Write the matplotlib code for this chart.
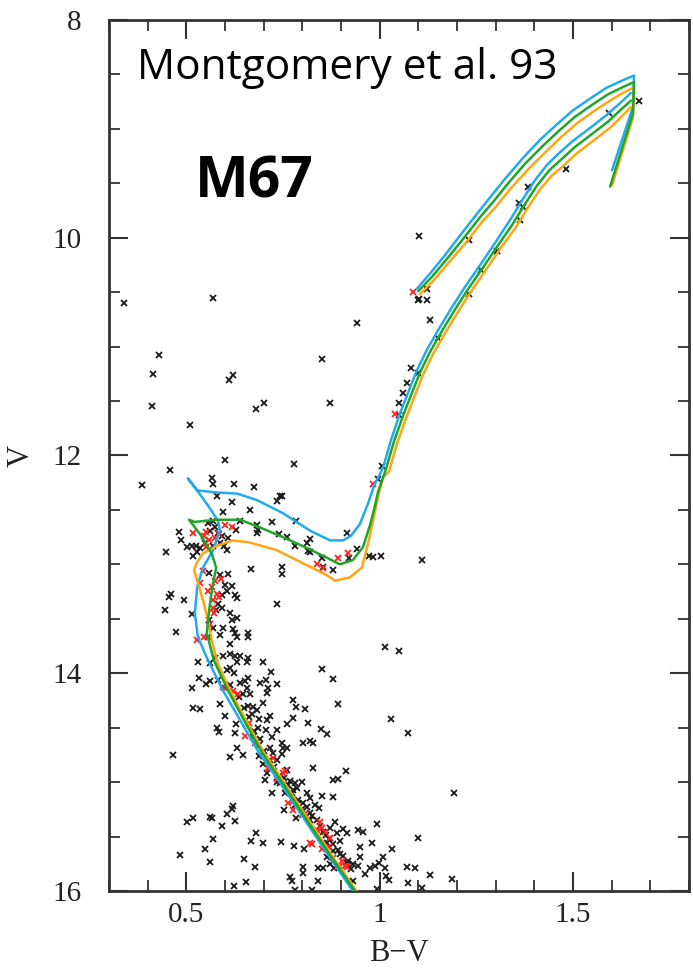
import matplotlib
matplotlib.use("Agg")
import matplotlib.pyplot as plt
from matplotlib.ticker import MultipleLocator, FixedLocator

# ---------------- data ----------------
black_pts = [
    (0.339, 10.60), (0.569, 10.55), (0.941, 10.78), (0.429, 11.08), (0.414, 11.25),
    (0.621, 11.26), (0.610, 11.31), (0.851, 11.11), (0.411, 11.55), (0.680, 11.57),
    (0.701, 11.52), (0.872, 11.52), (0.509, 11.72), (0.600, 12.04), (0.458, 12.13),
    (0.778, 12.08), (0.566, 12.21), (0.385, 12.27), (1.081, 11.20), (1.071, 11.33),
    (1.060, 11.43), (1.050, 11.52), (1.050, 11.63), (1.006, 12.10), (0.996, 12.22),
    (1.099, 10.57), (1.122, 10.57), (1.122, 10.47), (1.102, 10.56), (1.102, 9.98),
    (1.231, 10.02), (1.303, 10.12), (1.262, 10.30), (1.231, 10.52), (1.130, 10.76),
    (1.151, 10.92), (1.099, 11.24), (1.363, 9.84), (1.371, 9.72), (1.360, 9.68),
    (1.384, 9.53), (1.482, 9.37), (1.593, 8.85), (1.671, 8.74), (1.109, 12.96),
    # subgiant region
    (0.569, 12.26), (0.623, 12.26), (0.675, 12.29), (0.579, 12.37), (0.618, 12.43),
    (0.742, 12.37), (0.734, 12.42), (0.747, 12.37), (0.665, 12.50), (0.595, 12.52),
    (0.784, 12.60), (0.722, 12.61), (0.639, 12.60), (0.683, 12.64), (0.685, 12.68),
    (0.683, 12.71), (0.740, 12.72), (0.760, 12.75), (0.820, 12.77), (0.812, 12.80),
    (0.915, 12.71), (0.781, 12.83), (0.815, 12.88), (0.820, 12.89), (0.851, 12.94),
    (0.853, 13.02), (0.879, 13.05), (0.921, 12.94), (0.941, 12.86), (0.972, 12.92),
    (0.983, 12.93), (1.003, 12.92), (0.667, 13.04), (0.747, 13.02), (0.747, 13.09),
    (0.734, 13.36), (1.014, 13.76), (1.050, 13.80), (0.851, 13.96), (0.879, 14.05),
    # left of turnoff
    (0.481, 12.70), (0.486, 12.78), (0.447, 12.89), (0.502, 12.84), (0.525, 12.83),
    (0.515, 12.83), (0.517, 12.92), (0.460, 13.27), (0.455, 13.30), (0.445, 13.42),
    (0.494, 13.33), (0.515, 13.46), (0.473, 13.62), (0.530, 13.90), (0.533, 14.04),
    (0.515, 14.14), (0.551, 14.10), (0.698, 13.90), (0.719, 13.99), (0.690, 14.09),
    (0.657, 13.90),
    # turnoff
    (0.605, 12.87), (0.587, 12.80), (0.561, 12.69), (0.548, 12.80), (0.582, 12.71),
    (0.628, 12.68), (0.556, 12.62), (0.569, 12.60), (0.574, 12.66), (0.592, 12.74),
    (0.535, 12.85), (0.528, 12.89), (0.569, 12.83), (0.597, 12.83), (0.608, 12.76),
    (0.559, 13.08), (0.587, 13.10), (0.608, 13.09), (0.600, 13.19), (0.618, 13.20),
    (0.605, 13.24), (0.592, 13.28), (0.626, 13.28), (0.631, 13.31), (0.582, 13.36),
    (0.592, 13.40), (0.577, 13.42), (0.613, 13.45), (0.631, 13.49), (0.618, 13.51),
    (0.559, 13.51), (0.569, 13.58), (0.595, 13.58), (0.621, 13.59), (0.626, 13.63),
    (0.587, 13.65), (0.659, 13.63), (0.659, 13.67), (0.556, 13.67),
    # upper main sequence
    (0.613, 13.73), (0.631, 13.67), (0.561, 13.91), (0.574, 13.86), (0.595, 13.84),
    (0.613, 13.82), (0.626, 13.84), (0.639, 13.84), (0.631, 13.90), (0.659, 13.86),
    (0.613, 13.95), (0.561, 14.07), (0.582, 14.06), (0.600, 14.14), (0.613, 14.11),
    (0.639, 14.09), (0.652, 14.07), (0.659, 14.04), (0.657, 14.14), (0.665, 14.19),
    (0.647, 14.19), (0.706, 14.06), (0.734, 14.10), (0.711, 14.14), (0.709, 14.18),
    (0.892, 14.28), (0.587, 14.28), (0.517, 14.32), (0.535, 14.33), (0.600, 14.39),
    (0.659, 14.30), (0.672, 14.31), (0.683, 14.34), (0.698, 14.27), (0.688, 14.42),
    (0.709, 14.43), (0.670, 14.37), (0.716, 14.39), (0.685, 14.50), (0.706, 14.52),
    (0.734, 14.52), (0.760, 14.47), (0.776, 14.41), (0.776, 14.25), (0.784, 14.31),
    (0.807, 14.33), (0.815, 14.46), (0.848, 14.51), (0.864, 14.56), (0.579, 14.50),
    (0.584, 14.54), (0.628, 14.47), (0.626, 14.55), (0.672, 14.59), (0.690, 14.60),
    (0.722, 14.59), (0.747, 14.64), (0.750, 14.69), (0.760, 14.69), (0.802, 14.64),
    (0.820, 14.62), (0.828, 14.64), (0.716, 14.69), (0.724, 14.73), (0.631, 14.69),
    (0.647, 14.75), (0.613, 14.77), (0.466, 14.75), (0.688, 14.76),
    (0.688, 14.66), (0.700, 14.71), (0.676, 14.53), (0.662, 14.40), (0.648, 14.32),
    (0.637, 14.22), (0.622, 14.00), (0.606, 13.97),
    # lower main sequence
    (0.747, 14.74), (0.698, 14.83), (0.734, 14.80), (0.709, 14.92), (0.703, 14.98),
    (0.760, 14.89), (0.734, 15.00), (0.742, 15.01), (0.768, 14.99), (0.781, 15.01),
    (0.799, 15.00), (0.786, 15.05), (0.722, 15.10), (0.755, 15.10), (0.773, 15.10),
    (0.828, 14.87), (0.879, 14.98), (0.892, 14.97), (0.913, 14.90), (1.192, 15.10),
    (0.812, 15.10), (0.820, 15.15), (0.851, 15.13), (0.879, 15.14), (0.781, 15.21),
    (0.753, 15.26), (0.799, 15.25), (0.820, 15.28), (0.833, 15.21), (0.843, 15.24),
    (0.784, 15.33), (0.820, 15.35), (0.853, 15.46), (0.872, 15.42), (0.884, 15.37),
    (0.890, 15.47), (0.905, 15.43), (0.944, 15.44), (0.957, 15.46), (0.993, 15.38),
    (0.915, 15.47), (0.897, 15.54), (0.864, 15.56), (0.879, 15.63), (0.897, 15.66),
    (0.864, 15.69), (0.918, 15.72), (0.931, 15.75), (0.944, 15.77), (0.872, 15.75),
    (0.882, 15.79), (0.853, 15.79), (0.840, 15.79), (0.949, 15.60), (0.949, 15.69),
    (0.980, 15.56), (1.032, 15.61), (1.009, 15.69), (0.998, 15.74), (0.988, 15.77),
    (0.975, 15.79), (0.962, 15.84), (1.014, 15.79), (1.016, 15.86), (1.024, 15.90),
    (1.071, 15.78), (1.091, 15.79), (1.130, 15.85), (1.187, 15.89), (1.073, 15.93),
    (1.109, 15.97), (1.099, 15.51), (0.993, 15.98), (0.931, 15.91), (0.840, 15.91),
    (0.802, 15.78), (0.802, 15.83), (0.768, 15.87), (0.773, 15.91), (0.781, 15.99),
    (0.825, 15.99), (0.778, 15.59), (0.804, 15.61), (0.745, 15.55), (0.698, 15.56),
    (0.667, 15.54), (0.680, 15.47), (0.654, 15.92), (0.623, 15.95), (0.678, 15.78),
    (0.649, 15.71), (0.569, 15.52), (0.548, 15.61), (0.561, 15.73), (0.484, 15.67),
    (0.502, 15.37), (0.517, 15.33), (0.561, 15.32), (0.566, 15.33), (0.592, 15.40),
    (0.605, 15.29), (0.618, 15.25), (0.621, 15.22), (0.626, 15.36), (1.029, 14.42),
    (1.073, 14.55),
    (0.716, 14.80), (0.727, 14.86), (0.740, 14.94), (0.752, 14.96), (0.763, 15.03),
    (0.775, 15.07), (0.790, 15.16), (0.802, 15.19), (0.812, 15.23), (0.826, 15.31),
    (0.838, 15.35), (0.846, 15.40), (0.860, 15.49), (0.868, 15.52), (0.880, 15.57),
    (0.892, 15.62), (0.905, 15.68), (0.915, 15.74), (0.925, 15.80),
]
black_x = [p[0] for p in black_pts]
black_y = [p[1] for p in black_pts]

red_pts = [
    (1.086, 10.50), (1.040, 11.62), (0.983, 12.26), (0.838, 13.00), (0.853, 13.03),
    (0.892, 12.94), (0.918, 12.90), (0.517, 12.71), (0.551, 12.70), (0.559, 12.78),
    (0.618, 12.66), (0.600, 12.64), (0.585, 12.72), (0.575, 12.76), (0.545, 12.74),
    (0.552, 12.84), (0.543, 13.06), (0.535, 13.17), (0.574, 13.15), (0.590, 13.13),
    (0.566, 13.21), (0.579, 13.27), (0.569, 13.33), (0.569, 13.40), (0.556, 13.24),
    (0.584, 13.30), (0.571, 13.45), (0.562, 13.55), (0.546, 13.67), (0.528, 13.69),
    (0.595, 14.13), (0.621, 14.16), (0.634, 14.19), (0.662, 14.46), (0.652, 14.58),
    (0.678, 14.64), (0.724, 14.78), (0.716, 14.87), (0.711, 14.87), (0.750, 14.92),
    (0.755, 14.90), (0.763, 15.19), (0.776, 15.17), (0.776, 15.26), (0.807, 15.29),
    (0.846, 15.37), (0.851, 15.42), (0.859, 15.46), (0.872, 15.51), (0.825, 15.57),
    (0.820, 15.56), (0.851, 15.61), (0.903, 15.72), (0.910, 15.77), (0.890, 15.78),
    (0.897, 15.77), (0.915, 15.78), (0.735, 14.97), (0.800, 15.30), (0.838, 15.44),
    (0.868, 15.60), (0.880, 15.70),
]
red_x = [p[0] for p in red_pts]
red_y = [p[1] for p in red_pts]

# isochrones: main branch (MS -> turnoff -> SGB -> RGB tip)
blue_main_x = [0.931, 0.867, 0.807, 0.747, 0.688, 0.639, 0.595, 0.556, 0.530, 0.522,
               0.528, 0.543, 0.569, 0.587, 0.582, 0.556, 0.530, 0.504, 0.528, 0.579,
               0.631, 0.683, 0.750, 0.820, 0.872, 0.905, 0.925, 0.949, 0.970, 0.985,
               1.009, 1.030, 1.053, 1.075, 1.096, 1.122, 1.151, 1.185, 1.221, 1.260,
               1.298, 1.335, 1.368, 1.400, 1.433, 1.465, 1.500, 1.545, 1.588, 1.620, 1.650]
blue_main_y = [16.00, 15.67, 15.35, 15.03, 14.73, 14.43, 14.16, 13.88, 13.67, 13.45,
               13.21, 13.03, 12.87, 12.69, 12.60, 12.46, 12.33, 12.21, 12.32, 12.34,
               12.35, 12.41, 12.53, 12.69, 12.78, 12.78, 12.74, 12.63, 12.44, 12.28,
               12.11, 11.85, 11.61, 11.41, 11.22, 11.03, 10.85, 10.65, 10.45, 10.25,
               10.05, 9.85, 9.66, 9.48, 9.33, 9.22, 9.11, 8.99, 8.87, 8.77, 8.67]

green_main_x = [0.936, 0.872, 0.812, 0.753, 0.696, 0.649, 0.608, 0.571, 0.553, 0.559,
                0.566, 0.577, 0.566, 0.535, 0.507, 0.522, 0.579, 0.639, 0.690, 0.750,
                0.812, 0.864, 0.897, 0.931, 0.957, 0.975, 0.988, 0.996,
                1.016, 1.037, 1.061, 1.083, 1.104, 1.130, 1.159, 1.193, 1.229, 1.268,
                1.306, 1.343, 1.376, 1.407, 1.439, 1.470, 1.504, 1.548, 1.592, 1.622, 1.650]
green_main_y = [16.00, 15.67, 15.35, 15.03, 14.73, 14.43, 14.16, 13.88, 13.63, 13.42,
                13.24, 13.03, 12.90, 12.72, 12.59, 12.61, 12.59, 12.59, 12.66, 12.75,
                12.85, 12.94, 13.00, 12.96, 12.84, 12.64, 12.46, 12.33,
                12.13, 11.87, 11.63, 11.43, 11.24, 11.05, 10.87, 10.67, 10.47, 10.27,
                10.07, 9.88, 9.69, 9.52, 9.38, 9.28, 9.17, 9.05, 8.93, 8.83, 8.74]

orange_main_x = [0.940, 0.876, 0.817, 0.758, 0.701, 0.654, 0.613, 0.580, 0.566, 0.556,
                 0.543, 0.530, 0.520, 0.528, 0.543, 0.579, 0.621, 0.665, 0.734, 0.802,
                 0.864, 0.884, 0.923, 0.954, 0.970, 0.983, 0.996, 1.009,
                 1.024, 1.045, 1.069, 1.091, 1.112, 1.138, 1.167, 1.201, 1.237, 1.276,
                 1.314, 1.351, 1.384, 1.414, 1.445, 1.475, 1.508, 1.552, 1.596, 1.625, 1.650]
orange_main_y = [16.00, 15.67, 15.35, 15.03, 14.73, 14.43, 14.16, 13.90, 13.70, 13.51,
                 13.33, 13.17, 13.05, 12.98, 12.90, 12.83, 12.78, 12.80, 12.87, 12.99,
                 13.10, 13.15, 13.12, 13.03, 12.81, 12.60, 12.38, 12.20,
                 12.15, 11.89, 11.65, 11.45, 11.26, 11.07, 10.89, 10.69, 10.49, 10.29,
                 10.09, 9.91, 9.72, 9.56, 9.43, 9.34, 9.23, 9.11, 8.99, 8.89, 8.80]

# clump -> AGB -> descent
blue_agb_x = [1.096, 1.130, 1.169, 1.210, 1.254, 1.290, 1.324, 1.370, 1.415, 1.458,
              1.500, 1.545, 1.588, 1.625, 1.658, 1.655, 1.601]
blue_agb_y = [10.47, 10.33, 10.16, 9.97, 9.77, 9.61, 9.46, 9.27, 9.10, 8.96,
              8.83, 8.72, 8.62, 8.56, 8.51, 8.80, 9.38]
green_agb_x = [1.100, 1.135, 1.175, 1.216, 1.260, 1.296, 1.330, 1.376, 1.421, 1.463,
               1.505, 1.549, 1.592, 1.627, 1.658, 1.655, 1.596]
green_agb_y = [10.49, 10.36, 10.19, 10.01, 9.81, 9.66, 9.51, 9.32, 9.16, 9.02,
               8.89, 8.78, 8.68, 8.62, 8.57, 8.86, 9.53]
orange_agb_x = [1.104, 1.140, 1.181, 1.222, 1.266, 1.302, 1.336, 1.382, 1.427, 1.468,
                1.510, 1.553, 1.596, 1.629, 1.658, 1.655, 1.601]
orange_agb_y = [10.52, 10.39, 10.22, 10.05, 9.85, 9.71, 9.56, 9.38, 9.22, 9.08,
                8.95, 8.84, 8.74, 8.67, 8.62, 8.90, 9.52]

x_major = [0.5, 1.0, 1.5]
x_labels = ["0.5", "1", "1.5"]
y_major = [8, 10, 12, 14, 16]
y_labels = ["8", "10", "12", "14", "16"]

# ---------------- plot ----------------
fig = plt.figure(figsize=(6.93, 9.74), dpi=100)
ax = fig.add_axes([0.1573, 0.0852, 0.8369, 0.8943])

ax.plot(black_x, black_y, linestyle="none", marker="x", color="#1a1a1a",
        markersize=4.0, markeredgewidth=1.3, zorder=2)
ax.plot(red_x, red_y, linestyle="none", marker="x", color="#ff2020",
        markersize=4.0, markeredgewidth=1.3, zorder=3)

lw = 1.8
cols = {"blue": "#22aaf0", "green": "#1fa52a", "orange": "#ffa514"}
kw = dict(lw=lw, solid_joinstyle="round", solid_capstyle="round")
ax.plot(blue_main_x, blue_main_y, color=cols["blue"], zorder=4, **kw)
ax.plot(orange_main_x, orange_main_y, color=cols["orange"], zorder=4.5, **kw)
ax.plot(green_main_x, green_main_y, color=cols["green"], zorder=5, **kw)
ax.plot(blue_agb_x, blue_agb_y, color=cols["blue"], zorder=4, **kw)
ax.plot(orange_agb_x, orange_agb_y, color=cols["orange"], zorder=4.5, **kw)
ax.plot(green_agb_x, green_agb_y, color=cols["green"], zorder=5, **kw)

ax.set_xlim(0.3, 1.8)
ax.set_ylim(16, 8)

ax.xaxis.set_major_locator(FixedLocator(x_major))
ax.set_xticklabels(x_labels)
ax.xaxis.set_minor_locator(MultipleLocator(0.1))
ax.yaxis.set_major_locator(FixedLocator(y_major))
ax.set_yticklabels(y_labels)
ax.yaxis.set_minor_locator(MultipleLocator(0.5))

tick_col = "#333333"
ax.tick_params(which="both", direction="in", top=True, right=True, color=tick_col)
ax.tick_params(which="major", length=14, width=1.5)
ax.tick_params(which="minor", length=8, width=1.3)
ax.tick_params(axis="x", which="major", pad=8)
ax.tick_params(axis="y", which="major", pad=20)
for sp in ax.spines.values():
    sp.set_linewidth(2.0)
    sp.set_color(tick_col)

serif = ["Liberation Serif", "DejaVu Serif"]
for lab in ax.get_xticklabels() + ax.get_yticklabels():
    lab.set_fontfamily(serif)
    lab.set_fontsize(21)
    lab.set_color("#222222")

ax.set_xlabel("B\u2212V", fontsize=22, family=serif, color="#222222", labelpad=8)
ax.set_ylabel("V", fontsize=22, family=serif, color="#222222", labelpad=12)

ax.text(0.048, 0.945, "Montgomery et al. 93", transform=ax.transAxes,
        fontsize=30.5, family=["Open Sans", "DejaVu Sans"], ha="left", va="center",
        color="black")
ax.text(0.148, 0.813, "M67", transform=ax.transAxes, fontsize=41,
        fontweight="bold", family=["Open Sans", "DejaVu Sans"], ha="left",
        va="center", color="black")

fig.savefig("out.png", dpi=100)
